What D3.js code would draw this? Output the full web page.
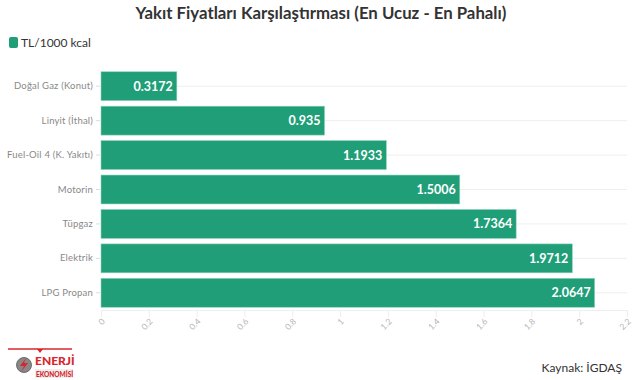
<!DOCTYPE html>
<html>
<head>
<meta charset="utf-8">
<script src="https://cdn.jsdelivr.net/npm/d3@7"></script>
<style>
  body { margin: 0; background: #fff; }
  svg { font-family: Lato, "Open Sans", sans-serif; }
</style>
</head>
<body>
<svg id="chart" width="641" height="380"></svg>
<script>
// Data
const categories = ['Doğal Gaz (Konut)', 'Linyit (İthal)', 'Fuel-Oil 4 (K. Yakıtı)', 'Motorin', 'Tüpgaz', 'Elektrik', 'LPG Propan'];
const values = [0.3172, 0.935, 1.1933, 1.5006, 1.7364, 1.9712, 2.0647];
const valueLabels = ['0.3172', '0.935', '1.1933', '1.5006', '1.7364', '1.9712', '2.0647'];
const xTicks = [0, 0.2, 0.4, 0.6, 0.8, 1, 1.2, 1.4, 1.6, 1.8, 2, 2.2];
const seriesName = 'TL/1000 kcal';

const barColor = '#1f9e78';
const svg = d3.select('#chart');

const xScale = d3.scaleLinear().domain([0, 2.2]).range([101, 627]);
const yScale = d3.scaleBand().domain(categories).range([69, 310])
  .paddingInner(0.16).paddingOuter(0.08);

// title
svg.append('text')
  .attr('x', 321).attr('y', 19)
  .attr('text-anchor', 'middle')
  .attr('font-size', 16.8).attr('font-weight', 'bold')
  .attr('fill', '#333')
  .text('Yakıt Fiyatları Karşılaştırması (En Ucuz - En Pahalı)');

// legend
svg.append('rect')
  .attr('x', 9).attr('y', 37).attr('width', 9).attr('height', 11)
  .attr('rx', 2).attr('fill', barColor);
svg.append('text')
  .attr('x', 21).attr('y', 47)
  .attr('font-size', 12).attr('fill', '#333')
  .text(seriesName);

// horizontal gridlines at category centers
svg.append('g')
  .selectAll('line')
  .data(categories)
  .enter()
  .append('line')
  .attr('x1', xScale(0)).attr('x2', xScale(2.2))
  .attr('y1', d => yScale(d) + yScale.bandwidth() / 2)
  .attr('y2', d => yScale(d) + yScale.bandwidth() / 2)
  .attr('stroke', '#eeeeee');

// y axis
const yAxis = svg.append('g')
  .attr('transform', `translate(${xScale(0) - 1},0)`)
  .call(d3.axisLeft(yScale).tickSize(4).tickPadding(3));
yAxis.select('.domain').remove();
yAxis.selectAll('.tick line').attr('stroke', '#ddd');
yAxis.selectAll('.tick text')
  .attr('font-size', 9.5).attr('fill', '#888')
  .attr('letter-spacing', 0.2)
  .attr('font-family', 'Lato, sans-serif');

// x axis
const xAxis = svg.append('g')
  .attr('transform', `translate(0,${yScale.range()[1]})`)
  .call(d3.axisBottom(xScale).tickValues(xTicks).tickSize(7).tickFormat(d3.format('~g')));
xAxis.select('.domain').attr('stroke', '#eee');
xAxis.selectAll('.tick line').attr('stroke', '#eee');
xAxis.selectAll('.tick text')
  .attr('font-size', 8.5).attr('fill', '#b5b5b5')
  .attr('font-family', 'Lato, sans-serif')
  .attr('text-anchor', 'end')
  .attr('dy', null).attr('y', 0)
  .attr('transform', 'translate(4,12) rotate(-45)');

// bars
svg.append('g')
  .selectAll('rect')
  .data(values)
  .enter()
  .append('rect')
  .attr('x', xScale(0))
  .attr('y', (d, i) => yScale(categories[i]))
  .attr('width', d => xScale(d) - xScale(0))
  .attr('height', yScale.bandwidth())
  .attr('fill', barColor)
  .attr('stroke', '#8fd3bc')
  .attr('stroke-width', 0.6);

// value labels
svg.append('g')
  .selectAll('text')
  .data(values)
  .enter()
  .append('text')
  .attr('x', d => xScale(d) - 4)
  .attr('y', (d, i) => yScale(categories[i]) + yScale.bandwidth() / 2 + 4.5)
  .attr('text-anchor', 'end')
  .attr('font-size', 12.5).attr('font-weight', 'bold')
  .attr('fill', '#fff')
  .text((d, i) => valueLabels[i]);

// source
svg.append('text')
  .attr('x', 622).attr('y', 372)
  .attr('text-anchor', 'end')
  .attr('font-size', 12).attr('fill', '#333')
  .text('Kaynak: İGDAŞ');

// logo
const logo = svg.append('g');
logo.append('line')
  .attr('x1', 8).attr('x2', 72).attr('y1', 349).attr('y2', 349)
  .attr('stroke', '#d9262b').attr('stroke-width', 1.5);
logo.append('path')
  .attr('d', 'M37,349 L43,349 L40,353 Z').attr('fill', '#d9262b');
logo.append('circle')
  .attr('cx', 24).attr('cy', 365).attr('r', 7.5)
  .attr('fill', '#888').attr('stroke', '#555').attr('stroke-width', 0.8);
logo.append('path')
  .attr('d', 'M26,358 L20,366 L24,366 L21,372 L28,363 L24,363 Z')
  .attr('fill', '#d9262b');
logo.append('text')
  .attr('x', 35).attr('y', 365)
  .attr('font-size', 12).attr('font-weight', 900)
  .attr('fill', '#d9262b')
  .text('ENERJİ');
logo.append('rect')
  .attr('x', 35).attr('y', 369).attr('width', 38).attr('height', 9)
  .attr('fill', '#eee');
logo.append('text')
  .attr('x', 36).attr('y', 377)
  .attr('font-size', 6.5).attr('font-weight', 900)
  .attr('fill', '#d9262b')
  .text('EKONOMİSİ');
</script>
</body>
</html>
